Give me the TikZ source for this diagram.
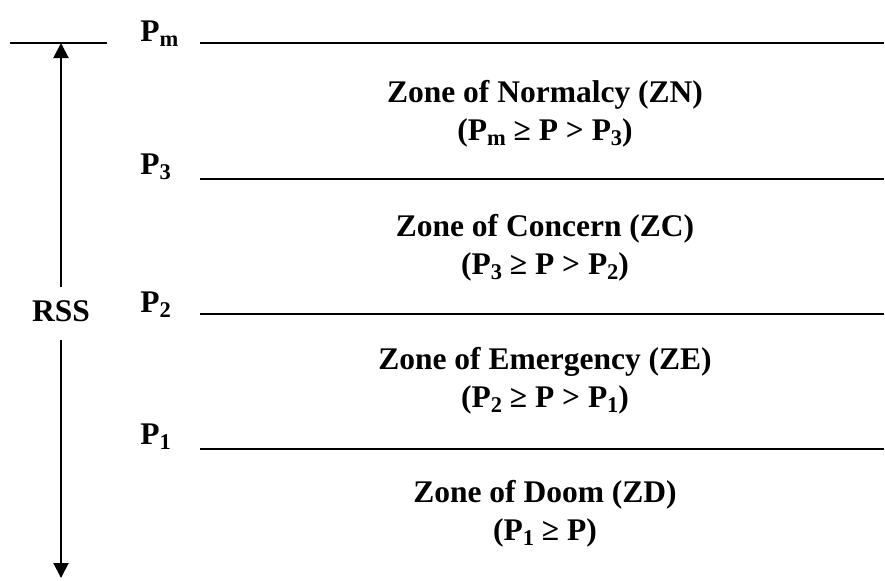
\documentclass[tikz,border=0pt]{standalone}
\usepackage{fontspec}
\setmainfont{Liberation Serif}
\usetikzlibrary{arrows.meta}
\newcommand{\Pind}[1]{P\raisebox{-0.35ex}{\fontsize{16}{16}\selectfont #1}}
\tikzstyle{zone}=[align=center,inner sep=0pt,
font={\bfseries\fontsize{22.4}{27}\selectfont}]
\tikzstyle{etiq}=[anchor=base west,inner sep=0pt,
font={\bfseries\fontsize{22.4}{27}\selectfont}]
\tikzstyle{ligne}=[line width=2pt]
\tikzstyle{fleche}=[line width=1.4pt,-{Triangle[length=0.375cm,width=0.375cm]}]

\begin{document}
\begin{tikzpicture}[x=0.025cm,y=-0.025cm]
      \useasboundingbox (0,0) rectangle (885,580);
      % niveaux de pression
      \node[etiq] (Pm) at (140,41) {\Pind{m}};
      \node[etiq] (P3) at (140,174) {\Pind{3}};
      \node[etiq] (P2) at (140,312) {\Pind{2}};
      \node[etiq] (P1) at (140,444) {\Pind{1}};
      \draw[ligne] (10,43) -- (107,43);
      \draw[ligne] (200,43) -- (884,43);
      \draw[ligne] (200,179) -- (884,179);
      \draw[ligne] (200,314) -- (884,314);
      \draw[ligne] (200,449) -- (884,449);
      % zones
      \node[zone] (ZN) at (545,114) {Zone of Normalcy (ZN)\\(\Pind{m} ≥ P > \Pind{3})};
      \node[zone] (ZC) at (545,248) {Zone of Concern (ZC)\\(\Pind{3} ≥ P > \Pind{2})};
      \node[zone] (ZE) at (545,381) {Zone of Emergency (ZE)\\(\Pind{2} ≥ P > \Pind{1})};
      \node[zone] (ZD) at (545,514) {Zone of Doom (ZD)\\(\Pind{1} ≥ P)};
      % etendue RSS
      \coordinate (haut) at (61,43);
      \coordinate (bas) at (61,578);
      \node[zone] (RSS) at (61,311) {RSS};
      \draw[fleche,shorten <=0.325cm] (RSS.north) -- (haut);
      \draw[fleche,shorten <=0.45cm] (RSS.south) -- (bas);
\end{tikzpicture}
\end{document}
